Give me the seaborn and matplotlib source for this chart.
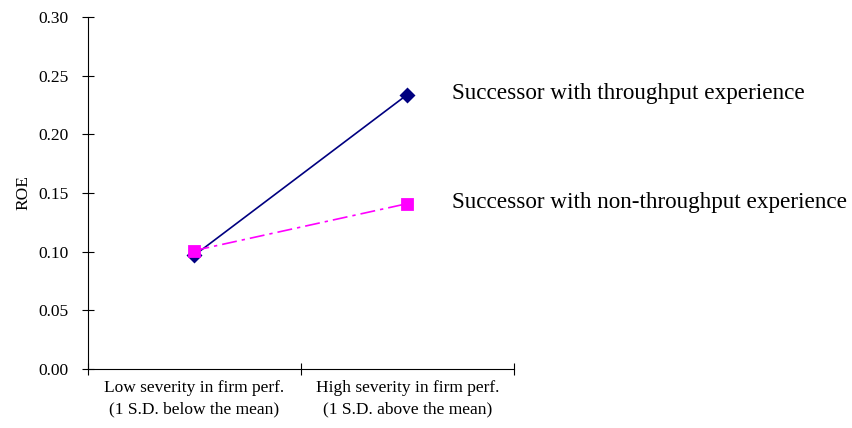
import pandas as pd
import matplotlib.pyplot as plt
import matplotlib.ticker as mticker
import seaborn as sns

# Data
categories = ['Low severity in firm perf.\n(1 S.D. below the mean)',
              'High severity in firm perf.\n(1 S.D. above the mean)']
throughput = [0.097, 0.234]
non_throughput = [0.101, 0.141]
series_names = ['Successor with throughput experience',
                'Successor with non-throughput experience']
y_ticks = [0.00, 0.05, 0.10, 0.15, 0.20, 0.25, 0.30]

df = pd.DataFrame({
    'severity': categories * 2,
    'ROE': throughput + non_throughput,
    'successor': [series_names[0]] * 2 + [series_names[1]] * 2,
})

sns.set_style('white')
plt.rcParams['font.family'] = ['Liberation Serif', 'DejaVu Serif']
plt.rcParams['text.color'] = 'black'

fig = plt.figure(figsize=(8.52, 4.28), dpi=100)
ax = fig.add_axes([0.1033, 0.1379, 0.4998, 0.8221])

sns.pointplot(data=df, x='severity', y='ROE', hue='successor',
              hue_order=series_names, order=categories,
              palette=['#000080', '#FF00FF'], markers=['D', 's'],
              linestyles=['-', (0, (9, 3, 2, 3))], dodge=False,
              errorbar=None, ax=ax, legend=False)

for line in ax.lines:
    line.set_linewidth(1.2)
    line.set_markersize(6.5)

# end-of-line labels
for name, vals in zip(series_names, [throughput, non_throughput]):
    ax.annotate(name, xy=(1, vals[1]), xytext=(32, 1),
                textcoords='offset points', va='center', ha='left',
                fontsize=16.7, color='black', annotation_clip=False)

ax.set_xlim(-0.5, 1.5)
ax.set_ylim(0, 0.30)
ax.set_yticks(y_ticks)
ax.yaxis.set_major_formatter(mticker.FormatStrFormatter('%.2f'))
ax.set_xlabel('')
ax.set_ylabel('ROE', fontsize=12.5, labelpad=5, color='black')

# category labels without marks, marks at the boundaries
ax.set_xticks([0, 1])
ax.set_xticklabels(categories, fontsize=12.5, linespacing=1.45)
ax.tick_params(axis='x', which='major', bottom=True, length=0, pad=8)
ax.set_xticks([-0.5, 0.5, 1.5], minor=True)
ax.tick_params(axis='x', which='minor', bottom=True, direction='inout',
               length=8, width=0.8)
ax.tick_params(axis='y', left=True, direction='inout', length=8, width=0.8,
               labelsize=12.5, pad=10)
ax.tick_params(which='both', colors='black')

sns.despine(ax=ax)
for s in ['left', 'bottom']:
    ax.spines[s].set_color('black')
    ax.spines[s].set_linewidth(0.8)

fig.savefig('out.png', dpi=100)
